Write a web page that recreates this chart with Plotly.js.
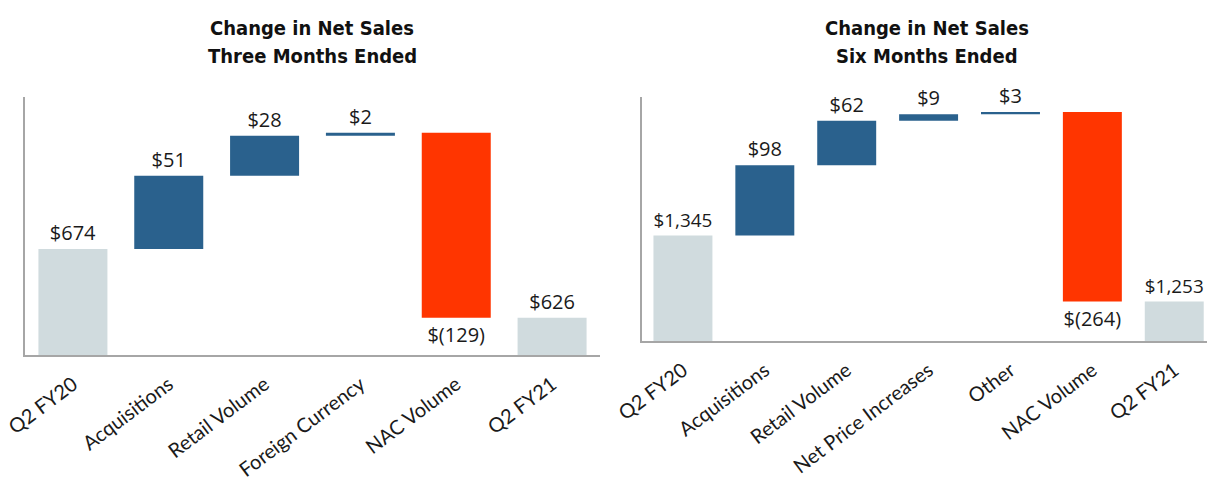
<!DOCTYPE html>
<html>
<head>
<meta charset="utf-8">
<script src="https://cdn.plot.ly/plotly-3.0.1.min.js"></script>
<style>
  html, body { margin: 0; padding: 0; background: #fff; }
  #chart { width: 1207px; height: 479px; }
</style>
</head>
<body>
<div id="chart"></div>
<script>
// three months ended
const qCats = ['Q2 FY20', 'Acquisitions', 'Retail Volume', 'Foreign Currency', 'NAC Volume', 'Q2 FY21'];
const qValues = [674, 51, 28, 2, -129, 626];
const qMeasure = ['absolute', 'relative', 'relative', 'relative', 'relative', 'total'];
const qLabels = ['$674', '$51', '$28', '$2', '$(129)', '$626'];

// six months ended
const hCats = ['Q2 FY20', 'Acquisitions', 'Retail Volume', 'Net Price Increases', 'Other', 'NAC Volume', 'Q2 FY21'];
const hValues = [1345, 98, 62, 9, 3, -264, 1253];
const hMeasure = ['absolute', 'relative', 'relative', 'relative', 'relative', 'relative', 'total'];
const hLabels = ['$1,345', '$98', '$62', '$9', '$3', '$(264)', '$1,253'];

const GREY = 'rgb(208,219,222)';
const BLUE = 'rgb(42,97,141)';
const RED = 'rgb(255,53,0)';
const LINE = '#a6a6a6';
const valueFont = { family: 'Open Sans, sans-serif', size: 20, color: '#1a1a1a' };
const tickFont = { family: 'Lato, sans-serif', size: 20, color: '#1a1a1a' };
const titleFont = { family: '"Liberation Sans Narrow", "DejaVu Sans Condensed", sans-serif', size: 20, color: '#111' };

function wf(cats, vals, measure, labels, xa, ya) {
    return {
        type: 'waterfall',
        x: cats, y: vals, measure: measure,
        text: labels, textinfo: 'text', textposition: 'outside',
        textfont: valueFont, cliponaxis: false,
        xaxis: xa, yaxis: ya,
        connector: { visible: false },
        increasing: { marker: { color: BLUE } },
        decreasing: { marker: { color: RED } },
        totals: { marker: { color: GREY } },
        hoverinfo: 'skip'
    };
}

const data = [
    wf(qCats, qValues, qMeasure, qLabels, 'x', 'y'),
    wf(hCats, hValues, hMeasure, hLabels, 'x2', 'y2')
];

// starting bar is an absolute: same grey as the totals
data.forEach(t => { t.marker = { color: t.measure.map(m => m === 'relative' ? null : GREY) }; });

const axX = { showline: true, linecolor: LINE, linewidth: 2, showgrid: false, zeroline: false,
              ticks: '', tickangle: -37, tickfont: tickFont, ticklabelstandoff: 8, fixedrange: true };
const axY = { showline: true, linecolor: LINE, linewidth: 2, showgrid: false, zeroline: false,
              showticklabels: false, ticks: '', fixedrange: true };

const layout = {
    width: 1207, height: 479,
    margin: { l: 0, r: 0, t: 0, b: 0 },
    paper_bgcolor: '#fff', plot_bgcolor: '#fff',
    showlegend: false,
    waterfallgap: 0.28,
    xaxis: Object.assign({}, axX, { domain: [25 / 1207, 600 / 1207], range: [-0.5, 5.5], anchor: 'y' }),
    yaxis: Object.assign({}, axY, { domain: [124 / 479, 382 / 479], range: [600, 780], anchor: 'x' }),
    xaxis2: Object.assign({}, axX, { domain: [642 / 1207, 1], range: [-0.5, 6.4], anchor: 'y2' }),
    yaxis2: Object.assign({}, axY, { domain: [138 / 479, 382 / 479], range: [1198, 1538], anchor: 'x2' }),
    annotations: [
        { text: '<b>Change in Net Sales</b>', x: 312 / 1207, y: 1 - 28 / 479 },
        { text: '<b>Three Months Ended</b>', x: 312 / 1207, y: 1 - 56 / 479 },
        { text: '<b>Change in Net Sales</b>', x: 927 / 1207, y: 1 - 28 / 479 },
        { text: '<b>Six Months Ended</b>', x: 927 / 1207, y: 1 - 56 / 479 }
    ].map(a => Object.assign(a, { xref: 'paper', yref: 'paper', showarrow: false,
                                  xanchor: 'center', yanchor: 'middle', font: titleFont }))
};

Plotly.newPlot('chart', data, layout, { displayModeBar: false, staticPlot: true });
</script>
</body>
</html>
